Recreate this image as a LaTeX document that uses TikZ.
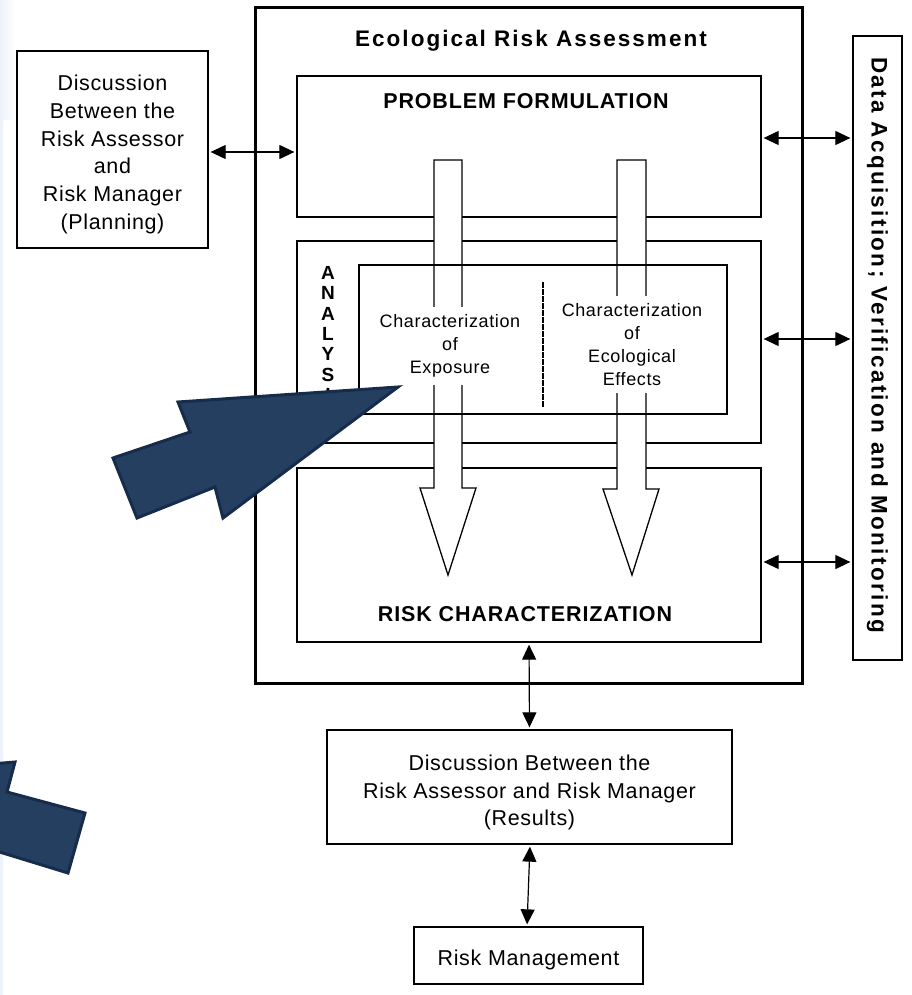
\documentclass[tikz,border=0pt]{standalone}
\usepackage{fontspec}
\setmainfont{Liberation Sans}
\newfontfamily\tA[LetterSpace=3]{Liberation Sans}
\newfontfamily\tB[LetterSpace=4]{Liberation Sans}
\newfontfamily\tC[LetterSpace=9]{Liberation Sans}
\newfontfamily\tE[LetterSpace=10.5]{Liberation Sans}
\newfontfamily\tD[LetterSpace=3.5]{Liberation Sans}
\usetikzlibrary{arrows.meta,calc}
\definecolor{navy}{RGB}{36,63,96}
\definecolor{navyedge}{RGB}{22,44,74}
\definecolor{paleblue}{RGB}{236,243,251}
\begin{document}
\begin{tikzpicture}[x=1pt,y=-1pt,
  box/.style={draw=black, line width=1.3pt, rectangle, inner sep=0pt},
  dbl/.style={{Triangle[length=15pt,width=14pt]}-{Triangle[length=15pt,width=14pt]}, line width=1.2pt, shorten <=2pt, shorten >=2pt},
  blk/.style={draw=black, fill=white, line width=1.3pt, line join=miter},
  barrow/.style={draw=navyedge, fill=navy, line width=3pt, line join=miter},
  body/.style={font=\tA\fontsize{21.5}{27.7}\selectfont, align=center, inner sep=0pt},
  head/.style={font=\tB\bfseries\fontsize{21.5}{24}\selectfont, inner sep=0pt},
  small/.style={font=\tD\fontsize{18}{22.8}\selectfont, align=center, fill=white, inner xsep=1pt, inner ysep=8pt}]
\useasboundingbox (0,0) rectangle (912,995);
\fill[white] (0,0) rectangle (912,995);
\shade[left color=paleblue, right color=white] (0,0) rectangle (16,120);
\fill[paleblue] (0,0) rectangle (3,995);

% left discussion box
\node[box, minimum width=191pt, minimum height=197pt] (lbox) at (112.5,149.5) {};
\node[body] (lboxt) at (112.5,154.5)
  {Discussion\\Between the\\Risk Assessor\\and\\Risk Manager\\(Planning)};

% outer ERA box
\node[box, line width=3pt, minimum width=547pt, minimum height=675pt] (era) at (528.5,345.5) {};
\node[font=\tC\bfseries\fontsize{22.5}{24}\selectfont, inner sep=0pt, anchor=base] (title) at (531,47) {Ecological Risk Assessment};

% stage boxes
\node[box, minimum width=464pt, minimum height=141pt] (pf) at (529,146.5) {};
\node[box, minimum width=464pt, minimum height=202pt] (an) at (529,342) {};
\node[box, minimum width=464pt, minimum height=174pt] (rc) at (529,555) {};

% big white arrows
\draw[blk] (434,160) -- (462,160) -- (462,488) -- (476,488) -- (448,575) -- (420,488) -- (434,488) -- cycle;
\draw[blk] (617,160) -- (646,160) -- (646,489) -- (659,489) -- (632,575) -- (603,489) -- (617,489) -- cycle;

% inner analysis box
\node[box, minimum width=368pt, minimum height=149pt] (ani) at (543,339.5) {};

\node[head, anchor=base] (pft) at (526,108.5) {PROBLEM FORMULATION};
\node[head, anchor=base] (rct) at (525,621) {RISK CHARACTERIZATION};

\node[small] (expo) at (450,346) {Characterization\\of\\Exposure};
\node[small] (eff) at (632,344.5) {Characterization\\of\\Ecological\\Effects};
\draw[line width=2.2pt, dash pattern=on 6pt off 1pt] (543,282) -- (543,408);

\node[font=\bfseries\fontsize{19}{20.4}\selectfont, align=center, inner sep=0pt, anchor=north] (anl) at (328,266)
  {A\\N\\A\\L\\Y\\S\\I\\S};

% data box
\node[box, minimum width=49pt, minimum height=624pt] (data) at (877.5,348) {};
\node[font=\tE\bfseries\fontsize{22.5}{24}\selectfont, rotate=-90, inner sep=0pt] (datat) at (877.5,345)
  {Data Acquisition; Verification and Monitoring};

% results boxes
\node[box, minimum width=405pt, minimum height=114pt] (res) at (529.5,787) {};
\node[body] (rest) at (529.5,792.5)
  {Discussion Between the\\Risk Assessor and Risk Manager\\(Results)};
\node[box, minimum width=229pt, minimum height=57pt] (rm) at (528.5,955.5) {};
\node[body] (rmt) at (528.5,960) {Risk Management};

% connectors
\draw[dbl] (lbox.east |- 0,152) -- (pf.west |- 0,152);
\draw[dbl] (pf.east |- 0,138) -- (data.west |- 0,138);
\draw[dbl] (an.east |- 0,339) -- (data.west |- 0,339);
\draw[dbl] (rc.east |- 0,562) -- (data.west |- 0,562);
\draw[dbl] (rc.south) -- (res.north);
\draw[dbl] (res.south -| 530,0) -- (rm.north -| 527,0);

% blue arrows
\draw[barrow] (398,387) -- (178,402) -- (190,432) -- (113,458) -- (137,518) -- (215,487) -- (223,518) -- cycle;
\begin{scope}
\clip (0,0) rectangle (912,995);
\draw[barrow] (-20,765) -- (15,762) -- (7,792) -- (85,813) -- (68,873) -- (-20,846) -- cycle;
\end{scope}
\end{tikzpicture}
\end{document}
